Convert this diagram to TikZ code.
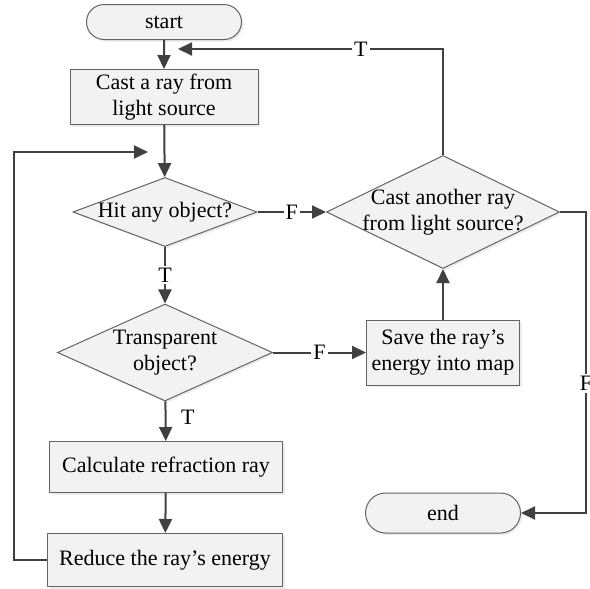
\documentclass[tikz,border=0pt]{standalone}
\usepackage{fontspec}
\setmainfont{Liberation Serif}
\usetikzlibrary{shapes.geometric,
                shapes.misc,
                arrows.meta,
                positioning,
                shadows}
\definecolor{linegray}{RGB}{64,64,64}
\definecolor{edgegray}{RGB}{100,100,100}
\definecolor{boxfill}{RGB}{242,242,242}

\begin{document}
\begin{tikzpicture}[x=0.5pt, y=-0.5pt, font=\fontsize{11}{13}\selectfont,
  process/.style={draw=edgegray, line width=0.5pt, fill=boxfill, align=center, inner sep=0pt,
                  drop shadow={shadow xshift=1pt, shadow yshift=-1pt, opacity=0.15}},
  terminal/.style={process, rounded rectangle},
  decision/.style={process, diamond},
  flow/.style={draw=linegray, line width=1pt, -{Triangle[length=7pt,width=6.5pt]}},
  lbl/.style={fill=white, inner sep=1pt}]
\useasboundingbox (0,0) rectangle (590,589);
% colonne de gauche
\node[terminal, minimum width=77.5pt, minimum height=17.5pt](start)at(164,22){start};
\node[process, minimum width=94pt, minimum height=27.5pt](cast)at(164,97){Cast a ray from\\light source};
\node[decision, minimum width=92pt, minimum height=34.5pt, label=center:Hit any object?](hit)at(165,212){};
\node[decision, minimum width=107.5pt, minimum height=48.5pt,
      label={[align=center]center:Transparent\\object?}](transp)at(165,352.5){};
\node[process, minimum width=116.5pt, minimum height=25.5pt](calc)at(166,467){Calculate refraction ray};
\node[process, minimum width=117.5pt, minimum height=26.5pt](reduce)at(165,560){Reduce the ray’s energy};
% colonne de droite
\node[decision, minimum width=116.5pt, minimum height=56.5pt,
      label={[align=center]center:Cast another ray\\from light source?}](more)at(443,212){};
\node[process, minimum width=76.5pt, minimum height=32.5pt](save)at(443,352.5){Save the ray’s\\energy into map};
\node[terminal, minimum width=77.5pt, minimum height=20pt](end)at(443,513){end};
\coordinate(again)at(178,49);
\coordinate(back)at(148,152);
% liaisons
\draw[flow](start)--(cast);
\draw[flow](cast)--(hit);
\draw[flow](hit)--node[lbl]{T}(transp);
\draw[flow](transp)--node[pos=0.4, right=4pt]{T}(calc);
\draw[flow](calc)--(reduce);
\draw[flow](hit.east)--node[lbl]{F}(more.west);
\draw[flow](transp.east)--node[lbl]{F}(save.west);
\draw[flow](save)--(more);
\draw[flow](more.north)|-node[lbl, pos=0.655]{T}(again);
\draw[flow](more.east)--++(26,0)|-node[lbl, pos=0.285]{F}(end.east);
\draw[flow](reduce.west)--++(-33,0)|-(back);
\end{tikzpicture}
\end{document}
